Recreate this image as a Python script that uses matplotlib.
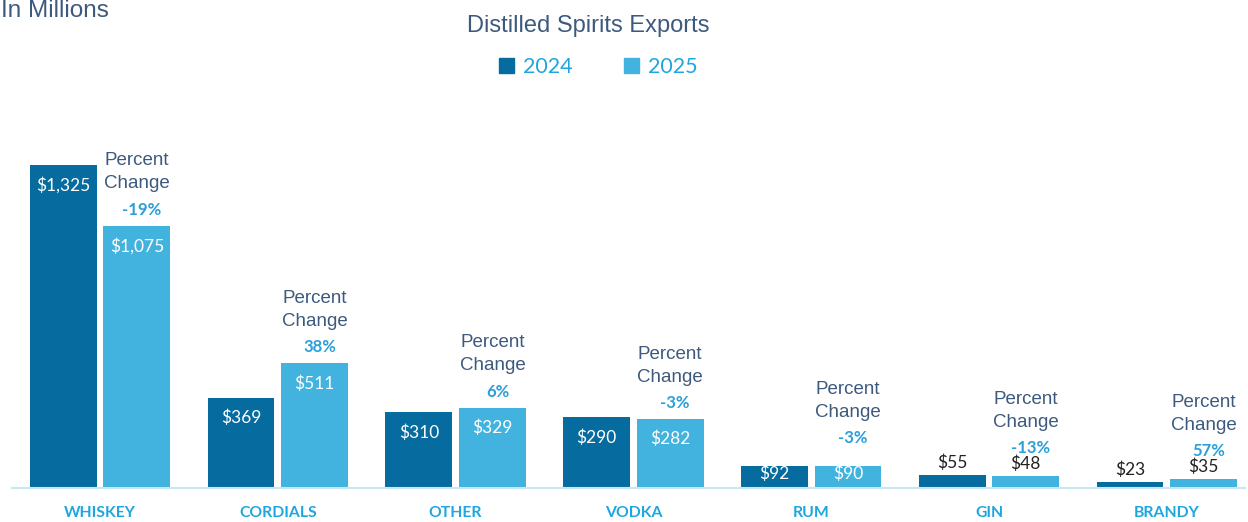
import matplotlib
matplotlib.use("Agg")
import numpy as np
import matplotlib.pyplot as plt
from matplotlib.patches import Patch

# data
categories = ["WHISKEY", "CORDIALS", "OTHER", "VODKA", "RUM", "GIN", "BRANDY"]
exports_2024 = [1325, 369, 310, 290, 92, 55, 23]
exports_2025 = [1075, 511, 329, 282, 90, 48, 35]
pct_change = ["-19%", "38%", "6%", "-3%", "-3%", "-13%", "57%"]

# colours
c2024 = "#066b9f"
c2025 = "#41b3de"
c_text = "#3d5a7e"
c_bright = "#1fa6e0"
c_pct = "#2a9fd8"

fig = plt.figure(figsize=(12.48, 5.22), dpi=100)
ax = fig.add_axes([12 / 1248, 34 / 522, 1233 / 1248, 358 / 522])

x = np.arange(len(categories))
w = 0.375
off = 0.207
b1 = ax.bar(x - off, exports_2024, w, color=c2024)
b2 = ax.bar(x + off, exports_2025, w, color=c2025)

ax.set_xlim(-0.495, 6.44)
ax.set_ylim(0, 1468)
for s in ["top", "right", "left"]:
    ax.spines[s].set_visible(False)
ax.spines["bottom"].set_color("#c8e7f5")
ax.spines["bottom"].set_linewidth(1.5)
ax.set_yticks([])
ax.set_xticks(x)
ax.set_xticklabels(categories, family="Lato", fontsize=11.3, fontweight="bold", color=c_bright)
ax.tick_params(axis="x", length=0, pad=13)


def value_label(bar, v):
    h = bar.get_height()
    cx = bar.get_x() + bar.get_width() / 2
    if v >= 80:
        # inside the bar, white
        px_h = ax.transData.transform((0, h))[1] - ax.transData.transform((0, 0))[1]
        dy = -min(20, px_h / 2 - 3)
        ax.annotate("${:,}".format(v), (cx, h), xytext=(0, dy), textcoords="offset pixels",
                    ha="center", va="center", color="white", fontsize=12.5, family="Lato")
    else:
        ax.annotate("${:,}".format(v), (cx, h), xytext=(0, 4), textcoords="offset pixels",
                    ha="center", va="bottom", color="#222222", fontsize=12.5, family="Lato")


for bar, v in zip(b1, exports_2024):
    value_label(bar, v)
for bar, v in zip(b2, exports_2025):
    value_label(bar, v)

# percent change notes above the 2025 bars
for bar, v, p in zip(b2, exports_2025, pct_change):
    h = bar.get_height()
    cx = bar.get_x() + bar.get_width() / 2
    lift = 12 if v < 100 else 0
    ax.annotate(p, (cx, h), xytext=(5, 16 + lift), textcoords="offset pixels",
                ha="center", va="center", color=c_pct, fontsize=12, family="Lato",
                fontweight="bold")
    ax.annotate("Change", (cx, h), xytext=(0, 42 + lift), textcoords="offset pixels",
                ha="center", va="center", color=c_text, fontsize=13.5, family="Liberation Sans")
    ax.annotate("Percent", (cx, h), xytext=(0, 65 + lift), textcoords="offset pixels",
                ha="center", va="center", color=c_text, fontsize=13.5, family="Liberation Sans")

fig.text(0.001, 1 - 11 / 522, "In Millions", ha="left", va="center", fontsize=17.5,
         color=c_text, family="Liberation Sans")
fig.text(588 / 1248, 1 - 26 / 522, "Distilled Spirits Exports", ha="center", va="center",
         fontsize=17, color=c_text, family="Liberation Sans")

handles = [Patch(color=c2024, label="2024"), Patch(color=c2025, label="2025")]
leg = fig.legend(handles=handles, loc="center", bbox_to_anchor=(598 / 1248, 1 - 67 / 522),
                 ncol=2, frameon=False, prop={"family": "Lato", "size": 15.5},
                 handlelength=0.7, handleheight=0.7, handletextpad=0.4, columnspacing=2.4)
for t in leg.get_texts():
    t.set_color(c_bright)

fig.savefig("out.png", dpi=100)
